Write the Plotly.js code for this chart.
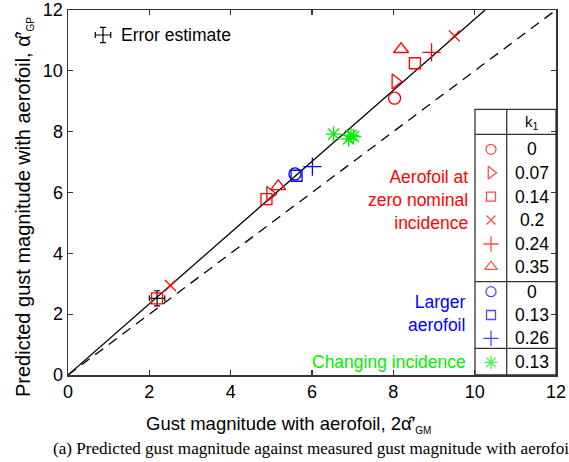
<!DOCTYPE html>
<html><head><meta charset="utf-8">
<script src="https://cdn.plot.ly/plotly-3.0.1.min.js"></script>
<style>html,body{margin:0;padding:0;background:#fff}#plot{width:569px;height:462px}</style>
</head><body><div id="plot"></div>
<script>
// ---- data ----
const k1Zero = ['0','0.07','0.14','0.2','0.24','0.35'];
const zeroCircleX = [8.03], zeroCircleY = [9.10];
const zeroTriRX = [8.05, 4.97], zeroTriRY = [9.65, 5.95];
const zeroSquareX = [8.53, 4.88, 2.19], zeroSquareY = [10.25, 5.78, 2.52];
const zeroCrossX = [9.50, 2.52], zeroCrossY = [11.15, 2.94];
const zeroPlusX = [8.94], zeroPlusY = [10.61];
const zeroTriUX = [8.19, 5.17], zeroTriUY = [10.71, 6.20];
const k1Larger = ['0','0.13','0.26'];
const largeCircleX = [5.58], largeCircleY = [6.61];
const largeSquareX = [5.62], largeSquareY = [6.55];
const largePlusX = [6.01], largePlusY = [6.85];
const k1Changing = ['0.13'];
const changeStarX = [6.53, 6.90, 6.96, 7.02], changeStarY = [7.92, 7.76, 7.88, 7.84];
const errX = [2.19], errY = [2.52], errDX = [0.19], errDY = [0.25];
const fitSlope = 1.17;
const axisMax = 12;

// ---- layout helpers (pixel -> data) ----
const X0=68, X1=556, Y0=375, Y1=10;
const px = p => (p-X0)/(X1-X0)*axisMax;
const py = p => (Y0-p)/(Y0-Y1)*axisMax;
const ppx = p => (p-X0)/(X1-X0);
const ppy = p => (Y0-p)/(Y0-Y1);
const RED='#ff0000', BLUE='#0000ff', GREEN='#00ee00';
const FONT='Liberation Sans, Arial, sans-serif';
const TXT=17.5;

function mk(x,y,sym,color,size){
  return {type:'scatter',mode:'markers',x:x,y:y,showlegend:false,hoverinfo:'skip',
    marker:{symbol:sym,size:size,color:color,line:{color:color,width:1.3}}};
}
const traces=[];
traces.push({type:'scatter',mode:'lines',x:[0,axisMax],y:[0,axisMax],showlegend:false,
  line:{color:'#000',width:1.3,dash:'10px,7px'}});
traces.push({type:'scatter',mode:'lines',x:[0,axisMax/fitSlope],y:[0,axisMax],showlegend:false,
  line:{color:'#000',width:1.3}});
traces.push({type:'scatter',mode:'markers',x:errX,y:errY,showlegend:false,marker:{size:1,color:'#000'},
  error_x:{type:'data',array:errDX,color:'#000',thickness:1.2,width:3},
  error_y:{type:'data',array:errDY,color:'#000',thickness:1.2,width:3}});
traces.push({type:'scatter',mode:'markers',x:[px(103)],y:[py(35)],showlegend:false,marker:{size:1,color:'#000'},
  error_x:{type:'data',array:errDX,color:'#000',thickness:1.2,width:3},
  error_y:{type:'data',array:errDY,color:'#000',thickness:1.2,width:3}});
const series=[
  [zeroCircleX,zeroCircleY,'circle-open',RED,12],
  [zeroTriRX,zeroTriRY,'triangle-right-open',RED,13],
  [zeroSquareX,zeroSquareY,'square-open',RED,11],
  [zeroCrossX,zeroCrossY,'x-thin-open',RED,11],
  [zeroPlusX,zeroPlusY,'cross-thin-open',RED,13],
  [zeroTriUX,zeroTriUY,'triangle-up-open',RED,13],
  [largeCircleX,largeCircleY,'circle-open',BLUE,12],
  [largeSquareX,largeSquareY,'square-open',BLUE,11],
  [largePlusX,largePlusY,'cross-thin-open',BLUE,13],
  [changeStarX,changeStarY,'asterisk-open',GREEN,13]
];
series.forEach(s=>traces.push(mk(s[0],s[1],s[2],s[3],s[4])));

// ---- table legend ----
const rowsPx=[149.3,172.7,196.7,220,244,266.7,291.7,315,338.3,362.3];
const labels=k1Zero.concat(k1Larger,k1Changing);
const symCol=px(491), valCol=px(531.5);
traces.push({type:'scatter',mode:'markers',showlegend:false,hoverinfo:'skip',
  x:rowsPx.map(()=>symCol),y:rowsPx.map(py),
  marker:{symbol:series.map(s=>s[2]),color:series.map(s=>s[3]),size:series.map(s=>s[4]-2),
    line:{color:series.map(s=>s[3]),width:1.3}}});

const shapes=[];
const tL=px(475), tM=px(506.7), tR=px(556), tT=py(109.3);
shapes.push({type:'rect',xref:'x',yref:'y',x0:tL,x1:tR,y0:0,y1:tT,fillcolor:'#fff',line:{color:'#333',width:1.3},layer:'below'});
shapes.push({type:'line',xref:'x',yref:'y',x0:tM,x1:tM,y0:0,y1:tT,line:{color:'#333',width:1.3},layer:'below'});
[134.3,281.7,348.3].forEach(p=>shapes.push({type:'line',xref:'x',yref:'y',x0:tL,x1:tR,y0:py(p),y1:py(p),line:{color:'#333',width:1.3},layer:'below'}));

const ann=[];
labels.forEach((t,i)=>ann.push({xref:'x',yref:'y',x:valCol,y:py(rowsPx[i]),text:t,showarrow:false,
  font:{family:FONT,size:TXT,color:'#000'},xanchor:'center',yanchor:'middle'}));
ann.push({xref:'x',yref:'y',x:valCol,y:py(122),text:'k<sub>1</sub>',showarrow:false,
  font:{family:FONT,size:15,color:'#000'},xanchor:'center',yanchor:'middle'});
ann.push({xref:'x',yref:'y',x:px(470),y:py(200),text:'Aerofoil at<br>zero nominal<br>incidence',showarrow:false,align:'right',
  font:{family:FONT,size:TXT,color:RED},xanchor:'right',yanchor:'middle'});
ann.push({xref:'x',yref:'y',x:px(468),y:py(313),text:'Larger<br>aerofoil',showarrow:false,align:'right',
  font:{family:FONT,size:TXT,color:BLUE},xanchor:'right',yanchor:'middle'});
ann.push({xref:'x',yref:'y',x:px(468),y:py(362),text:'Changing incidence',showarrow:false,align:'right',
  font:{family:FONT,size:TXT,color:GREEN},xanchor:'right',yanchor:'middle'});
ann.push({xref:'x',yref:'y',x:px(119),y:py(35),text:'Error estimate',showarrow:false,
  font:{family:FONT,size:TXT,color:'#000'},xanchor:'left',yanchor:'middle'});
// axis titles
ann.push({xref:'paper',yref:'paper',x:ppx(288),y:ppy(424),text:'Gust magnitude with aerofoil, 2α̂′<sub><span style="font-size:10px">GM</span></sub>',
  showarrow:false,xanchor:'center',yanchor:'middle',font:{family:FONT,size:18.5,color:'#000'}});
ann.push({xref:'paper',yref:'paper',x:ppx(24),y:ppy(207),textangle:-90,text:'Predicted gust magnitude with aerofoil, α̂′<sub><span style="font-size:10px">GP</span></sub>',
  showarrow:false,xanchor:'center',yanchor:'middle',font:{family:FONT,size:20,color:'#000'}});
ann.push({xref:'paper',yref:'paper',x:ppx(51),y:ppy(448),text:'(a) Predicted gust magnitude against measured gust magnitude with aerofoil',
  showarrow:false,xanchor:'left',yanchor:'middle',font:{family:'Liberation Serif, Times New Roman, serif',size:17.1,color:'#000'}});

const axisCommon={range:[0,axisMax],dtick:2,ticks:'inside',ticklen:5,tickwidth:1.3,tickcolor:'#333',
  showline:true,linecolor:'#333',linewidth:1.5,mirror:'ticks',showgrid:false,zeroline:false,
  tickfont:{family:FONT,size:18,color:'#000'},fixedrange:true};
const layout={
  width:569,height:462,margin:{l:68,r:13,t:10,b:87},
  paper_bgcolor:'#fff',plot_bgcolor:'#fff',showlegend:false,
  xaxis:Object.assign({},axisCommon),
  yaxis:Object.assign({},axisCommon),
  shapes:shapes,annotations:ann
};
Plotly.newPlot('plot',traces,layout,{staticPlot:true});
</script></body></html>
